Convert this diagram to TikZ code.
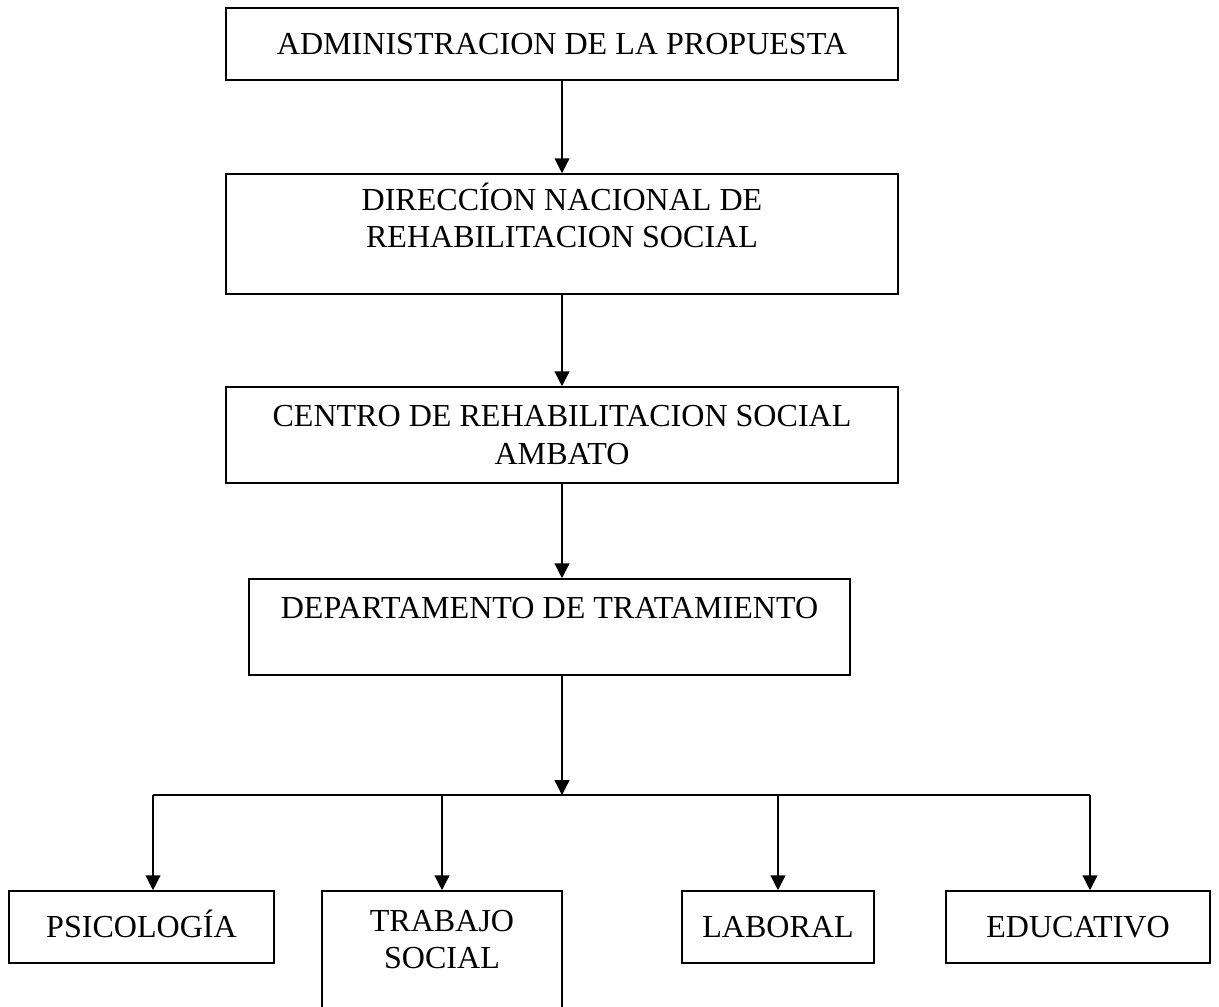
\documentclass[tikz,border=0pt]{standalone}
\usepackage{fontspec}
\setmainfont{Liberation Serif}
\usepackage{tikz}
\usetikzlibrary{positioning,arrows.meta,calc}
\tikzset{
  orgbox/.style={rectangle,draw=black,line width=1.1pt,align=center,inner sep=2pt,font=\fontsize{22.8}{26.5}\selectfont},
  arrow/.style={-{Triangle[length=0.37cm,width=0.37cm]},line width=0.9pt},
  link/.style={line width=0.9pt}
}
\begin{document}
\begin{tikzpicture}[x=0.025cm,y=-0.025cm]
			\useasboundingbox (0,0) rectangle (1219,1007);
			\clip (0,0) rectangle (1219,1007);
			
			\node[orgbox, minimum width=16.8cm, minimum height=1.8cm] (admin) at (562,44) {ADMINISTRACION DE LA PROPUESTA};
			\node[orgbox, minimum width=16.8cm, minimum height=3cm] (direccion) at (562,234) {DIRECCÍON NACIONAL DE\\REHABILITACION SOCIAL\\\mbox{}};
			\node[orgbox, minimum width=16.8cm, minimum height=2.4cm] (centro) at (562,435) {CENTRO DE REHABILITACION SOCIAL\\AMBATO};
			\node[orgbox, minimum width=15.025cm, minimum height=2.4cm] (depto) at (549.5,627) {DEPARTAMENTO DE TRATAMIENTO\\\mbox{}};
			
			\node[orgbox, minimum width=6.625cm, minimum height=1.8cm, text height=15pt] (psico) at (141.5,927) {PSICOLOGÍA};
			\node[orgbox, minimum width=6cm, minimum height=3.35cm] (trabajo) at (442,958) {TRABAJO\\SOCIAL\\\mbox{}};
			\node[orgbox, minimum width=4.8cm, minimum height=1.8cm] (laboral) at (778,927) {LABORAL};
			\node[orgbox, minimum width=6.6cm, minimum height=1.8cm] (educ) at (1078,927) {EDUCATIVO};
			
			\coordinate (hub) at (562,795);
			\coordinate (lft) at (153,795);
			\coordinate (rgt) at (1090,795);
			
			\draw[arrow] (admin) -- (direccion);
			\draw[arrow] (direccion) -- (centro);
			\draw[arrow] (centro.south) -- (centro.south |- depto.north);
			\draw[arrow] (depto.south -| hub) -- (hub);
			
			\draw[link] (lft) -- (rgt);
			\draw[arrow] (lft) -- (lft |- psico.north);
			\draw[arrow] (hub -| trabajo) -- (trabajo.north);
			\draw[arrow] (hub -| laboral) -- (laboral.north);
			\draw[arrow] (rgt) -- (rgt |- educ.north);
			
		\end{tikzpicture}
\end{document}
